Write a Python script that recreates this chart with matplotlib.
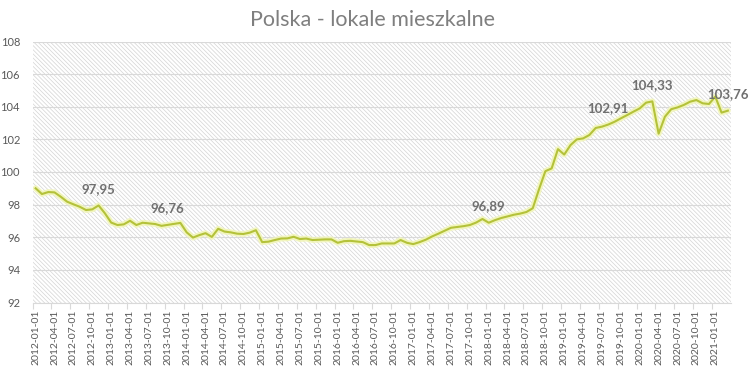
import matplotlib
matplotlib.use("Agg")
import matplotlib.pyplot as plt
import pandas as pd

# ---- data ----
months = pd.date_range("2012-01-01", periods=111, freq="MS").strftime("%Y-%m-%d").tolist()
values = [
    99.00, 98.65, 98.77, 98.75, 98.48, 98.18, 98.02, 97.87, 97.67, 97.71,
    97.95, 97.47, 96.90, 96.75, 96.79, 97.01, 96.75, 96.89, 96.85, 96.81,
    96.70, 96.76, 96.82, 96.88, 96.30, 95.98, 96.13, 96.25, 96.02, 96.52,
    96.35, 96.30, 96.22, 96.20, 96.28, 96.43, 95.70, 95.73, 95.83, 95.92,
    95.93, 96.03, 95.89, 95.92, 95.83, 95.85, 95.87, 95.87, 95.66, 95.76,
    95.78, 95.74, 95.70, 95.52, 95.52, 95.62, 95.62, 95.62, 95.83, 95.66,
    95.58, 95.70, 95.85, 96.05, 96.22, 96.40, 96.58, 96.63, 96.68, 96.75,
    96.90, 97.12, 96.89, 97.05, 97.18, 97.28, 97.38, 97.45, 97.55, 97.78,
    98.95, 100.05, 100.22, 101.40, 101.07, 101.65, 102.00, 102.06, 102.27, 102.70,
    102.78, 102.91, 103.08, 103.29, 103.49, 103.70, 103.90, 104.25, 104.33, 102.35,
    103.39, 103.85, 103.96, 104.11, 104.31, 104.41, 104.21, 104.17, 104.62, 103.64,
    103.76,
]
label_idx = [10, 21, 72, 91, 98, 110]
label_txt = ["97,95", "96,76", "96,89", "102,91", "104,33", "103,76"]
y_ticks = [92, 94, 96, 98, 100, 102, 104, 106, 108]
title = "Polska - lokale mieszkalne"

# ---- style ----
plt.rcParams["font.family"] = ["Lato", "DejaVu Sans"]
plt.rcParams["hatch.color"] = "#d4d4d4"
plt.rcParams["hatch.linewidth"] = 0.5

W, H = 753, 367
fig = plt.figure(figsize=(W / 100, H / 100), dpi=100)
ax = fig.add_axes([32.5 / W, 64.5 / H, (731 - 32.5) / W, (302.5 - 41.5) / H])

ax.patch.set_facecolor("white")
ax.patch.set_hatch("\\" * 8)
ax.patch.set_edgecolor("#d4d4d4")
ax.patch.set_linewidth(0)

x = list(range(len(values)))
ax.plot(x, values, color="#f1f5b4", lw=4.2, alpha=0.85, solid_capstyle="round", zorder=3)
ax.plot(x, values, color="#b4c23a", lw=1.5, solid_joinstyle="round", zorder=4)

for i, t in zip(label_idx, label_txt):
    ax.annotate(t, xy=(i, values[i]), xytext=(0, 12), textcoords="offset points",
                ha="center", va="center", fontsize=9.5, color="#707070",
                fontweight="bold", zorder=5)

ax.set_xlim(-0.5, len(values) - 0.5)
ax.set_ylim(92, 108)
ax.set_yticks(y_ticks)
ax.set_yticklabels([str(v) for v in y_ticks])
ax.grid(axis="y", color="#d9d9d9", lw=0.8, zorder=1)
ax.set_axisbelow(True)

tick_pos = list(range(0, len(values), 3))
ax.set_xticks(tick_pos)
ax.set_xticklabels([months[i] for i in tick_pos], rotation=90)
ax.set_xticks([p - 0.5 for p in tick_pos], minor=True)
ax.tick_params(axis="x", which="major", length=0, pad=5, labelsize=7.5, labelcolor="#595959")
ax.tick_params(axis="x", which="minor", length=4, color="#d9d9d9", width=0.8)
ax.tick_params(axis="y", length=0, pad=9, labelsize=8, labelcolor="#595959")

for s in ["top", "right", "left"]:
    ax.spines[s].set_visible(False)
ax.spines["bottom"].set_color("#d9d9d9")
ax.spines["bottom"].set_linewidth(0.8)

fig.text(372.5 / W, 1 - 20 / H, title, ha="center", va="center", fontsize=15.5, color="#7f7f7f")

fig.savefig("out.png", dpi=100)
